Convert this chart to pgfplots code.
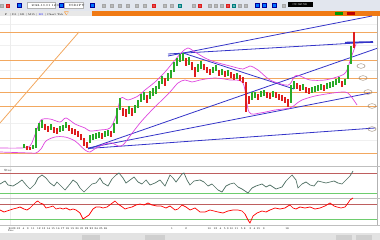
\documentclass[border=0pt]{standalone}
\usepackage{pgfplots}
\pgfplotsset{compat=1.18}
\definecolor{tb}{RGB}{226,230,238}
\definecolor{obar}{RGB}{240,122,20}
\definecolor{oline}{RGB}{242,168,96}
\definecolor{bline}{RGB}{52,52,200}
\definecolor{band}{RGB}{222,70,222}
\definecolor{cred}{RGB}{222,30,30}
\definecolor{cgreen}{RGB}{40,170,40}
\definecolor{osc1}{RGB}{80,112,100}
\definecolor{lvlred}{RGB}{190,95,95}
\definecolor{lvlgreen}{RGB}{110,205,110}
\begin{document}
\begin{tikzpicture}
\begin{axis}[
  width=380pt, height=240pt, scale only axis,
  xmin=0, xmax=380, ymin=0, ymax=240, y dir=reverse,
  axis lines=none, ticks=none, clip=true,
]
% ---------- toolbar ----------
\addplot[fill=tb, draw=none] coordinates {(0,0) (380,0) (380,11.5) (0,11.5)} --cycle;
\addplot[fill=white, draw=gray!60, line width=0.3pt] coordinates {(27,2.5) (55,2.5) (55,8.5) (27,8.5)} --cycle;
\addplot[fill=white, draw=gray!60, line width=0.3pt] coordinates {(64,2.5) (83,2.5) (83,8.5) (64,8.5)} --cycle;
\addplot[fill=black, draw=none] coordinates {(288,2.5) (313,2.5) (313,7) (288,7)} --cycle;
\addplot[only marks, mark=square*, mark size=1.8pt, mark options={fill=blue!55!cyan, draw=blue!60!black}] coordinates {(19,5.5) (61,5.5) (92,5.5) (257,5.5) (264,5.5) (274,5.5)};
\addplot[only marks, mark=square*, mark size=1.6pt, mark options={fill=gray!55, draw=gray!70}] coordinates {(2,5.5) (104,5.5) (112,5.5) (120,5.5) (128,5.5) (137,5.5) (145,5.5) (165,5.5) (172,5.5) (194,5.5) (210,5.5) (216,5.5) (222,5.5) (240,5.5) (246,5.5) (284,5.5)};
\addplot[only marks, mark=square*, mark size=1.6pt, mark options={fill=cred!80, draw=cred}] coordinates {(8,5.5) (154,5.5) (200,5.5) (228,5.5)};
\addplot[only marks, mark=square*, mark size=1.6pt, mark options={fill=teal!60, draw=teal}] coordinates {(180,5.5) (234,5.5)};
\node[font=\fontsize{3}{3}\selectfont, anchor=west] at (axis cs:28,5.6) {2024.10.01 12:00};
\node[font=\fontsize{3}{3}\selectfont, anchor=west] at (axis cs:65,5.6) {USDJPY};
\node[font=\fontsize{3}{3}\selectfont, anchor=west, text=white] at (axis cs:289,4.8) {09:32:56};
% ---------- tab bar ----------
\addplot[fill=gray!18, draw=none] coordinates {(0,11.5) (92,11.5) (92,16) (0,16)} --cycle;
\addplot[fill=obar, draw=none] coordinates {(92,11.5) (380,11.5) (380,16) (92,16)} --cycle;
\addplot[fill=green!60!black, draw=none] coordinates {(335,12.3) (343,12.3) (343,15.2) (335,15.2)} --cycle;
\addplot[fill=red!75!black, draw=none] coordinates {(347,12.3) (355,12.3) (355,15.2) (347,15.2)} --cycle;
\node[font=\fontsize{2.6}{2.6}\selectfont, anchor=west] at (axis cs:1,13.8) {\,F\quad| D1 | H1 | M15 | \textcolor{blue}{M5} | Chart Tab\,\textcolor{orange}{$\nabla$}};
% ---------- grid ----------
\addplot[gray!12, line width=0.4pt] coordinates {(0,24) (377,24)};
\addplot[gray!12, line width=0.4pt] coordinates {(0,45) (377,45)};
\addplot[gray!12, line width=0.4pt] coordinates {(0,70) (377,70)};
\addplot[gray!12, line width=0.4pt] coordinates {(0,123) (377,123)};
\addplot[gray!12, line width=0.4pt] coordinates {(0,140) (377,140)};
\addplot[gray!15, line width=0.4pt] coordinates {(10,16) (10,225)};
% ---------- orange levels ----------
\addplot[oline, line width=0.9pt] coordinates {(0,32) (377,32)};
\addplot[oline, line width=0.9pt] coordinates {(0,60) (377,60)};
\addplot[oline, line width=0.9pt] coordinates {(0,78.5) (377,78.5)};
\addplot[oline, line width=0.9pt] coordinates {(0,92.5) (377,92.5)};
\addplot[oline, line width=0.9pt] coordinates {(0,106.5) (377,106.5)};
\addplot[oline, line width=0.9pt] coordinates {(0,153) (377,153)};
\addplot[oline, line width=0.8pt] coordinates {(0,123) (79,32)};
% ---------- blue trend lines ----------
\addplot[bline, line width=0.8pt] coordinates {(168,56) (372,16)};
\addplot[bline, line width=0.8pt] coordinates {(168,54) (373,42)};
\addplot[bline, line width=1.6pt] coordinates {(345,42.6) (373,42)};
\addplot[bline, line width=0.8pt] coordinates {(183,53) (294,89)};
\addplot[bline, line width=0.8pt] coordinates {(88,148.5) (375,128)};
\addplot[bline, line width=0.8pt] coordinates {(88,148) (370,93)};
\addplot[bline, line width=0.8pt] coordinates {(88,149) (378,48)};
\addplot[only marks, mark=o, mark size=2.3pt, mark options={xscale=1.8, draw=gray!70!brown, line width=0.4pt}] coordinates {(361,66) (363,78) (368,92) (372,106) (372,129)};
% ---------- bollinger bands ----------
\addplot[band, line width=0.7pt, smooth] coordinates {(0,148) (20,148) (30,146) (36,132) (41,120) (50,119) (60,122) (66,118) (75,124) (85,128) (90,131) (100,130) (110,128) (116,116) (121,98) (128,100) (138,96) (145,90) (155,82) (165,72) (175,60) (182,52) (188,48) (195,52) (205,58) (215,62) (230,66) (243,69) (250,66) (258,70) (270,80) (285,85) (290,84) (295,76) (300,76) (310,80) (325,80) (340,76) (346,72) (351,58) (356,44)};
\addplot[band, line width=0.7pt, smooth] coordinates {(0,152) (30,153) (36,153) (41,149) (46,141) (55,137) (65,137) (75,141) (85,150) (90,152) (96,148) (105,144) (112,143) (118,146) (123,145) (130,136) (140,123) (150,112) (160,102) (170,92) (178,83) (185,80) (192,82) (200,80) (215,78) (230,80) (243,83) (249,112) (260,113) (275,110) (290,108) (296,104) (302,100) (315,96) (333,93) (345,92) (350,95) (357,105)};
% ---------- candles ----------
\addplot[draw=none, mark=none, error bars/.cd, y dir=both, y explicit, error mark=none, error bar style={cred, line width=1.1pt}]
 table[x=x, y=y, y error=e] {
x y e
27 148 2
30 149 1.5
45 127 3
48 129 3
54 130 3
57 131 3
69 128 3
72 131 3
75 132 3
78 134 3
81 137 3
84 142 4
87 145 3
102 136 3
111 134 3
123 112 4
126 113 4
132 112 4
147 99 4
165 82 4
186 62 4
192 66 4
195 72 5
204 67 3
207 70 3
210 72 3
219 73 3
225 74 3
231 75 3
234 77 3
240 78 3
243 80 3
246 97 15
249 100 4
258 97 3
267 95 3
270 96 3
276 95 3
279 97 3
282 98 3
285 100 3
288 103 4
297 86 3
300 88 3
306 90 3
309 91 3
324 88 3
342 84 3
354 40 8
};
\addplot[draw=none, mark=none, error bars/.cd, y dir=both, y explicit, error mark=none, error bar style={cgreen, line width=1.1pt}]
 table[x=x, y=y, y error=e] {
x y e
24 146 2
33 147 2
36 138 10
39 127 4
42 124 4
51 127 3
60 129 3
63 128 3
66 125 3
90 139 4
93 137 3
96 136 3
99 135 3
105 134 3
108 133 3
114 128 5
117 116 8
120 104 6
129 110 4
135 109 4
138 104 4
141 98 4
144 96 4
150 95 4
153 92 4
156 90 4
159 85 4
162 80 4
168 77 4
171 74 4
174 67 5
177 62 4
180 58 4
183 57 4
189 61 4
198 68 4
201 65 4
213 70 3
216 68 3
222 72 3
228 73 3
237 76 3
252 96 4
255 95 3
261 94 3
264 93 3
273 94 3
291 94 9
294 85 4
303 87 3
312 90 3
315 89 3
318 88 3
321 87 3
327 86 3
330 85 3
333 84 3
336 82 3
339 80 3
345 82 3
348 72 7
351 55 9
};
% ---------- right scale ----------
\addplot[gray!60, line width=0.4pt] coordinates {(377,16) (377,225)};
% ---------- panel 1 ----------
\addplot[gray!50, line width=0.4pt] coordinates {(0,166) (380,166)};
\node[font=\fontsize{3}{3}\selectfont, anchor=west] at (axis cs:0.5,170) {Stoc};
\addplot[lvlred, line width=0.7pt] coordinates {(0,173.5) (377,173.5)};
\addplot[lvlgreen, line width=0.7pt] coordinates {(0,193) (377,193)};
\addplot[osc1, line width=0.7pt] coordinates {(0,184) (5,181) (8,185) (13,186) (18,183) (22,180) (27,186) (30,189) (35,184) (38,178) (42,175) (46,178) (50,183) (54,186) (57,182) (62,187) (65,190) (70,184) (73,180) (77,183) (80,188) (84,192) (88,188) (92,184) (96,183) (100,178) (103,183) (108,186) (112,179) (116,175) (119,173) (123,178) (126,183) (130,180) (134,177) (138,182) (142,184) (146,180) (150,185) (155,183) (160,180) (165,186) (170,175) (173,178) (176,182) (179,178) (182,174) (184,173) (187,180) (190,185) (194,181) (200,180) (204,182) (208,186) (212,184) (218,190) (222,192) (226,186) (230,184) (234,183) (238,187) (242,189) (248,193) (252,188) (256,186) (262,184) (266,187) (270,185) (276,189) (282,187) (286,181) (292,175) (296,180) (298,188) (302,184) (306,182) (310,185) (314,186) (318,181) (322,182) (326,183) (330,182) (334,181) (338,183) (342,184) (346,180) (350,176) (353,171)};
% ---------- panel 2 ----------
\addplot[gray!50, line width=0.4pt] coordinates {(0,198) (380,198)};
\addplot[lvlred, line width=0.7pt] coordinates {(0,204.5) (377,204.5)};
\addplot[lvlgreen, line width=0.7pt] coordinates {(0,219) (377,219)};
\addplot[red, line width=0.7pt] coordinates {(0,210) (4,212) (7,211) (10,210) (13,209) (17,208) (20,207) (24,209) (27,210) (30,208) (33,205) (36,202) (38,201) (40,203) (43,204) (46,208) (50,207) (53,206) (56,209) (60,208) (63,209) (66,208) (70,210) (73,209) (76,210) (80,213) (83,219) (86,217) (89,215) (93,209) (96,207) (100,207) (103,208) (107,207) (111,204) (115,201) (118,204) (121,206) (125,209) (128,208) (132,207) (136,205) (140,204) (144,205) (148,203) (152,205) (157,206) (161,206) (166,208) (170,206) (175,210) (178,209) (182,205) (186,207) (190,210) (195,208) (200,212) (205,212) (210,210) (214,211) (218,212) (223,213) (228,211) (233,210) (238,210) (242,211) (245,214) (248,220) (250,223) (253,216) (257,213) (262,211) (266,212) (270,210) (275,208) (280,209) (285,208) (288,206) (290,205) (293,208) (296,209) (300,207) (305,208) (310,207) (315,209) (320,208) (325,206) (330,203) (334,206) (337,207) (341,208) (345,207) (348,203) (350,200) (353,198)};
% ---------- date axis ----------
\addplot[gray!50, line width=0.4pt] coordinates {(0,225) (380,225)};
\node[font=\fontsize{2.6}{2.6}\selectfont, anchor=west] at (axis cs:5,228.5) {2023.12 \ 4\ \ 9 \ 11 \ 12 13 14 15 16 17 18 19 20 21 22 23 24 25 26};
\node[font=\fontsize{2.6}{2.6}\selectfont] at (axis cs:11,231) {Dec};
\node[font=\fontsize{2.6}{2.6}\selectfont] at (axis cs:172,228.5) {1};
\node[font=\fontsize{2.6}{2.6}\selectfont] at (axis cs:186,228.5) {2};
\node[font=\fontsize{2.6}{2.6}\selectfont, anchor=west] at (axis cs:204,228.5) {10\quad 12\ \ 4\ \ 5\ 9\ 10 11\quad 5\ 8\quad\ 3\ \ 4 15\quad 9\qquad\qquad\qquad\qquad 18};
% ---------- scrollbar ----------
\addplot[fill=gray!22, draw=none] coordinates {(0,233) (380,233) (380,240) (0,240)} --cycle;
\addplot[fill=gray!38, draw=none] coordinates {(82,234.5) (100,234.5) (100,240) (82,240)} --cycle;
\addplot[fill=gray!38, draw=none] coordinates {(145,234.5) (165,234.5) (165,240) (145,240)} --cycle;
\addplot[fill=gray!38, draw=none] coordinates {(336,234.5) (352,234.5) (352,240) (336,240)} --cycle;
\addplot[fill=gray!38, draw=none] coordinates {(356,234.5) (372,234.5) (372,240) (356,240)} --cycle;
\end{axis}
\end{tikzpicture}
\end{document}
